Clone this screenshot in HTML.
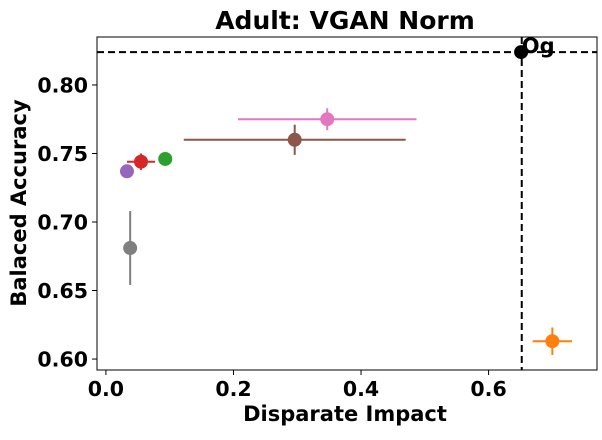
<!DOCTYPE html>
<html><head><meta charset="utf-8"><style>
body{margin:0;background:#fff;width:602px;height:435px;overflow:hidden}
text{font-family:"DejaVu Sans","Liberation Sans",sans-serif;font-weight:bold}
</style></head><body>
<svg id="c" width="602" height="435"></svg>
<script>
const names=['purple','red','green','gray','brown','pink','og','orange'];
const colors=['#9467bd','#d62728','#2ca02c','#7f7f7f','#8c564b','#e377c2','#000000','#ff7f0e'];
const xVals=[0.033,0.055,0.093,0.038,0.296,0.347,0.651,0.700];
const yVals=[0.737,0.744,0.746,0.681,0.760,0.775,0.824,0.613];
const xErr=[0.004,0.022,0.006,0.010,0.174,0.140,0.0,0.031];
const yErr=[0.003,0.006,0.003,0.027,0.011,0.008,0.0,0.010];
const xTicks=[0.0,0.2,0.4,0.6];
const yTicks=[0.60,0.65,0.70,0.75,0.80];
const refX=0.652, refY=0.824;
const L=97,R=597,T=37,B=370,x0=-0.014,x1=0.770,y0=0.592,y1=0.835;
const X=v=>L+(v-x0)/(x1-x0)*(R-L);
const Y=v=>B-(v-y0)/(y1-y0)*(B-T);
const s=document.getElementById('c'),NS='http://www.w3.org/2000/svg';
function mk(t,a,txt){const e=document.createElementNS(NS,t);for(const k in a)e.setAttribute(k,a[k]);if(txt!=null)e.textContent=txt;s.appendChild(e);return e;}
let e;
e=mk('text',{x:345,y:29,'font-size':25,'text-anchor':'middle'},'Adult: VGAN Norm');

xTicks.forEach(v=>{mk('line',{x1:X(v),x2:X(v),y1:B,y2:B+5,stroke:'#000'});
e=mk('text',{x:X(v),y:B+26,'font-size':20.5,'text-anchor':'middle'},v.toFixed(1));
});
yTicks.forEach(v=>{mk('line',{x1:L-5,x2:L,y1:Y(v),y2:Y(v),stroke:'#000'});
e=mk('text',{x:L-9,y:Y(v)+7.5,'font-size':20.5,'text-anchor':'end'},v.toFixed(2));
});
e=mk('text',{x:345,y:421,'font-size':21,'text-anchor':'middle'},'Disparate Impact');

e=mk('text',{x:0,y:0,'font-size':21,'text-anchor':'middle',transform:'translate(26,203) rotate(-90)'},'Balaced Accuracy');

e=mk('line',{x1:X(refX),x2:X(refX),y1:T,y2:B,stroke:'#000','stroke-width':2,'stroke-dasharray':'7,4'});

e=mk('line',{x1:L,x2:R,y1:Y(refY),y2:Y(refY),stroke:'#000','stroke-width':2,'stroke-dasharray':'7,4'});

xVals.forEach((v,i)=>{const cx=X(v),cy=Y(yVals[i]);
mk('line',{x1:X(v-xErr[i]),x2:X(v+xErr[i]),y1:cy,y2:cy,stroke:colors[i],'stroke-width':2});
mk('line',{x1:cx,x2:cx,y1:Y(yVals[i]-yErr[i]),y2:Y(yVals[i]+yErr[i]),stroke:colors[i],'stroke-width':2});
e=mk('circle',{cx:cx,cy:cy,r:7,fill:colors[i]});
});
e=mk('text',{x:X(refX),y:Y(refY)+1,'font-size':21},'Og');

e=mk('rect',{x:L,y:T,width:R-L,height:B-T,fill:'none',stroke:'#000','stroke-width':1});

</script></body></html>
